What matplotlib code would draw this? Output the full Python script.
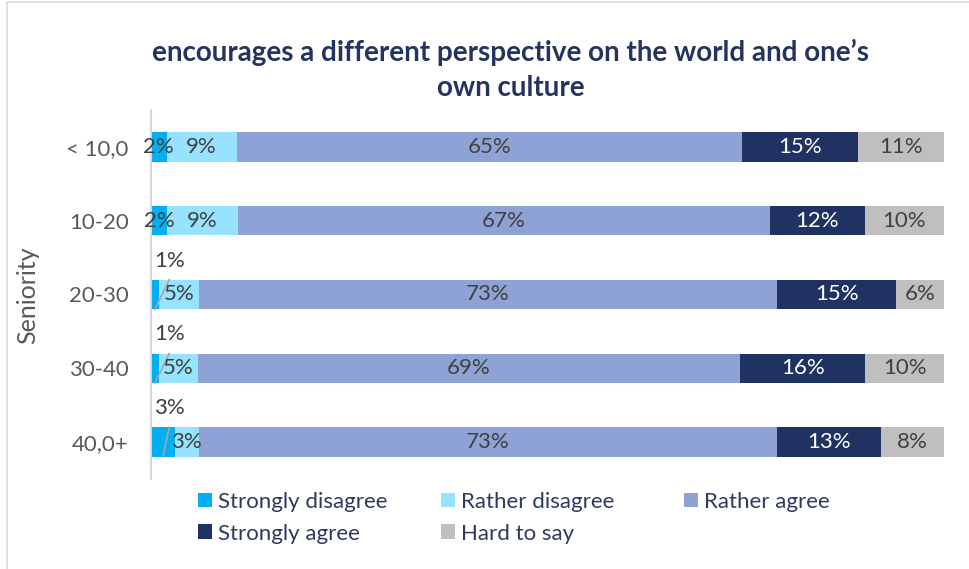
import matplotlib.pyplot as plt
import numpy as np
from matplotlib.patches import Rectangle

plt.rcParams['font.family'] = ['Lato', 'DejaVu Sans']

groups = ["< 10,0", "10-20", "20-30", "30-40", "40,0+"]
answers = ["Strongly disagree", "Rather disagree", "Rather agree",
           "Strongly agree", "Hard to say"]
strongly_disagree = [2, 2, 1, 1, 3]
rather_disagree = [9, 9, 5, 5, 3]
rather_agree = [65, 67, 73, 69, 73]
strongly_agree = [15, 12, 15, 16, 13]
hard_to_say = [11, 10, 6, 10, 8]

colors = ["#00B0F0", "#97E3FF", "#8FA2D5", "#203262", "#BFBFBF"]
label_colors = ["#404040", "#404040", "#404040", "white", "#404040"]

series = np.array([strongly_disagree, rather_disagree, rather_agree,
                   strongly_agree, hard_to_say], dtype=float)
shares = series / series.sum(axis=0) * 100

fig = plt.figure(figsize=(9.69, 5.69), dpi=100)
ax = fig.add_axes([151 / 969, 1 - 479 / 569, (944 - 151) / 969, 369 / 569])

y = np.arange(len(groups))
left = np.zeros(len(groups))
handles = []
for k in range(len(answers)):
    h = ax.barh(y, shares[k], left=left, height=0.4, color=colors[k],
                label=answers[k])
    handles.append(h)
    for i in range(len(groups)):
        cx = left[i] + shares[k][i] / 2
        txt = "%d%%" % series[k][i]
        if k == 0 and (series[k][i] <= 1 or i == 4):
            # tiny segments: label above the bar with a leader line
            lx = 2.3
            ax.text(lx, y[i] - 0.46, txt, ha='center', va='center',
                    fontsize=16, color="#404040")
            ax.plot([cx, lx], [y[i] + 0.2, y[i] - 0.2], color="#A6A6A6",
                    lw=1.2)
        else:
            ax.text(cx, y[i], txt, ha='center', va='center', fontsize=16,
                    color=label_colors[k])
    left += shares[k]

ax.set_xlim(0, 100)
ax.set_ylim(len(groups) - 0.5, -0.5)
ax.set_yticks(y)
ax.set_yticklabels(groups, fontsize=16, color="#595959")
ax.tick_params(axis='y', length=0, pad=16)
ax.set_xticks([])
for s in ['top', 'right', 'bottom']:
    ax.spines[s].set_visible(False)
ax.spines['left'].set_color("#D9D9D9")
ax.spines['left'].set_linewidth(1.5)

fig.text(28 / 969, 1 - 295 / 569, "Seniority", rotation=90, ha='center',
         va='center', fontsize=18, color="#595959")

title_kw = dict(ha='center', va='center', fontsize=20, fontweight='bold',
                color="#243360")
fig.text(511 / 969, 1 - 52 / 569,
         "encourages a different perspective on the world and one\u2019s",
         **title_kw)
fig.text(511 / 969, 1 - 88 / 569, "own culture", **title_kw)

# legend laid out as three fixed-width columns
columns = [[0, 3], [1, 4], [2]]
col_x = [198, 441, 684]
for cols, x0 in zip(columns, col_x):
    fig.legend([handles[i] for i in cols], [answers[i] for i in cols],
               loc='upper left', bbox_to_anchor=(x0 / 969, 1 - 492 / 569),
               frameon=False, fontsize=16, labelcolor="#2E3A5E",
               handlelength=0.63, handleheight=0.63, handletextpad=0.25,
               labelspacing=0.52, borderpad=0, borderaxespad=0)

fig.patches.append(Rectangle((7 / 969, -0.05), 1.1, 1 - 2 / 569 + 0.05,
                             transform=fig.transFigure, fill=False,
                             edgecolor="#D9D9D9", lw=1.2))

fig.savefig("out.png", dpi=100)
